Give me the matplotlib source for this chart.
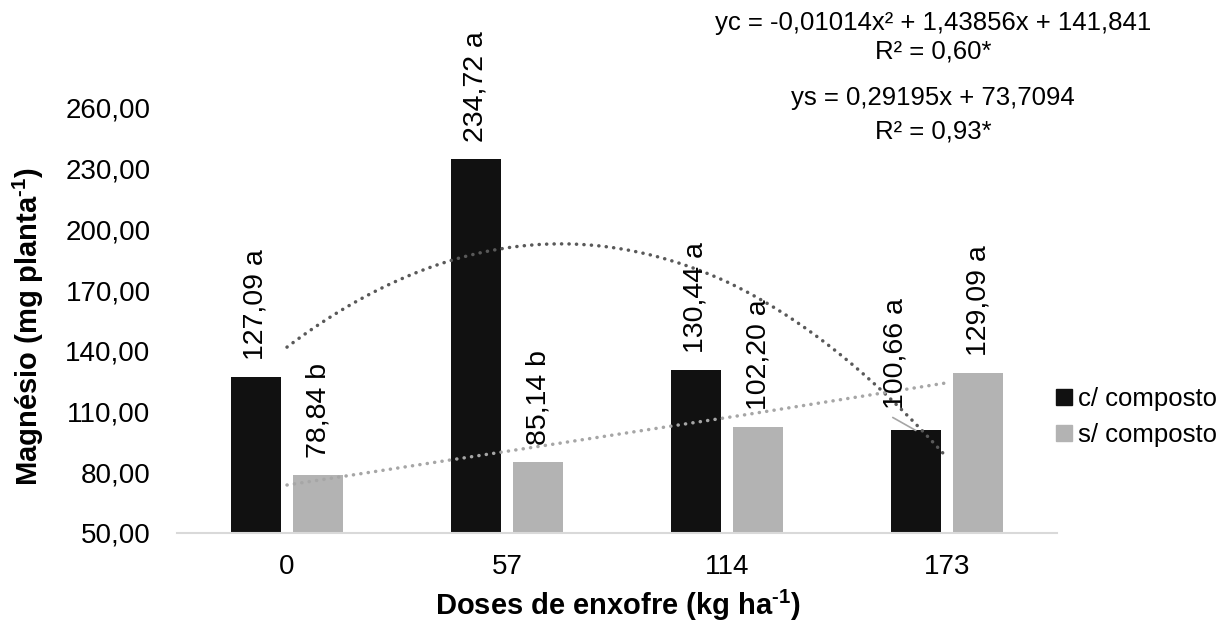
import numpy as np
import matplotlib
matplotlib.use("Agg")
import matplotlib.pyplot as plt
from matplotlib.patches import Patch
from matplotlib.ticker import FuncFormatter

plt.rcParams['font.family'] = ['Liberation Sans', 'DejaVu Sans']
plt.rcParams['mathtext.fontset'] = 'custom'
plt.rcParams['mathtext.rm'] = 'Liberation Sans'
plt.rcParams['mathtext.bf'] = 'Liberation Sans:bold'

# data
doses = [0, 57, 114, 173]
c_composto = [127.09, 234.72, 130.44, 100.66]
s_composto = [78.84, 85.14, 102.20, 129.09]
c_letters = ['a', 'a', 'a', 'a']
s_letters = ['b', 'b', 'a', 'a']

# trendline equations printed on the chart
poly_c = [-0.01014, 1.43856, 141.841]
lin_s = [0.29195, 73.7094]
eq_lines = ['yc = -0,01014x² + 1,43856x + 141,841', 'R² = 0,60*',
            'ys = 0,29195x + 73,7094', 'R² = 0,93*']

BLACK = '#111111'
GRAY = '#b3b3b3'

W, H = 1219, 625
fig = plt.figure(figsize=(W / 100, H / 100), dpi=100)

# axes placed in pixel terms: x from 177 to 1057, baseline at 533, 2.024 px per unit
left, right, bottom, top = 177, 1057, 533, 10
ax = fig.add_axes([left / W, 1 - bottom / H, (right - left) / W, (bottom - top) / H])
ymax = 50 + (bottom - top) / 2.024

pos = np.arange(len(doses))
bw = 0.225
off = 0.142

ax.bar(pos - off, c_composto, bw, color=BLACK, zorder=2)
ax.bar(pos + off, s_composto, bw, color=GRAY, zorder=2)

# trendlines, dose mapped onto the evenly spaced categories
xx = np.linspace(doses[0], doses[-1], 200)
px = np.interp(xx, doses, pos)
ax.plot(px, np.polyval(poly_c, xx), color='#595959', lw=2.5,
        ls=(0, (0.05, 2.1)), dash_capstyle='round', zorder=3)
ax.plot(px, np.polyval(lin_s, xx), color='#a6a6a6', lw=2.5,
        ls=(0, (0.05, 2.1)), dash_capstyle='round', zorder=3)

def fmt(v):
    return f'{v:.2f}'.replace('.', ',')

for i in range(len(doses)):
    if i == 3:
        # this label was moved off the bar in the original, with a leader line
        ax.annotate(fmt(c_composto[i]) + ' ' + c_letters[i], (pos[i] - off, c_composto[i]),
                    xytext=(-20, 21), textcoords='offset pixels', rotation=90,
                    ha='center', va='bottom', fontsize=20.5, zorder=4)
        ax.annotate('', (pos[i] - off, c_composto[i]), xytext=(-23, 13),
                    textcoords='offset pixels',
                    arrowprops=dict(arrowstyle='-', color='#a6a6a6', lw=1.2,
                                    shrinkA=0, shrinkB=0))
    else:
        ax.annotate(fmt(c_composto[i]) + ' ' + c_letters[i], (pos[i] - off, c_composto[i]),
                    xytext=(0, 17), textcoords='offset pixels', rotation=90,
                    ha='center', va='bottom', fontsize=20.5, zorder=4)
    ax.annotate(fmt(s_composto[i]) + ' ' + s_letters[i], (pos[i] + off, s_composto[i]),
                xytext=(0, 17), textcoords='offset pixels', rotation=90,
                ha='center', va='bottom', fontsize=20.5, zorder=4)

ax.set_xlim(-0.5, 3.5)
ax.set_ylim(50, ymax)
ax.set_yticks(np.arange(50, 261, 30))
ax.yaxis.set_major_formatter(FuncFormatter(lambda v, p: fmt(v)))
ax.set_xticks(pos)
ax.set_xticklabels([str(d) for d in doses])
ax.tick_params(axis='y', length=0, pad=19, labelsize=20)
ax.tick_params(axis='x', length=0, pad=15, labelsize=20)
for s in ['top', 'right', 'left']:
    ax.spines[s].set_visible(False)
ax.spines['bottom'].set_color('#d9d9d9')
ax.spines['bottom'].set_linewidth(1.5)

fig.text(28 / W, 1 - 326 / H, 'Magnésio (mg planta$^{\\mathbf{\u2010}\\mathbf{1}}$)', rotation=90,
         ha='center', va='center', fontsize=21, fontweight='bold')
fig.text(618 / W, 1 - 605 / H, 'Doses de enxofre (kg ha$^{\\mathbf{\u2010}\\mathbf{1}}$)',
         ha='center', va='center', fontsize=21, fontweight='bold')

eq_y = [23, 52, 98, 131]
for t, y in zip(eq_lines, eq_y):
    fig.text(933 / W, 1 - y / H, t, ha='center', va='center', fontsize=18.5)

handles = [Patch(color=BLACK, label='c/ composto'), Patch(color=GRAY, label='s/ composto')]
fig.legend(handles=handles, loc='center left', bbox_to_anchor=(1046 / W, 1 - 417 / H),
           frameon=False, fontsize=18.5, handlelength=0.6, handleheight=0.6,
           handletextpad=0.25, labelspacing=0.45, borderaxespad=0)

fig.savefig('out.png', dpi=100)
